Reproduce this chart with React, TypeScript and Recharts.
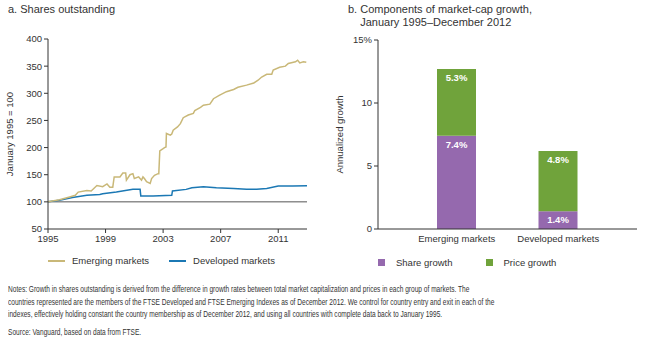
import React from 'react';
import { LineChart, Line, XAxis, YAxis, ReferenceLine, BarChart, Bar, LabelList } from 'recharts';

const emergingYears = [1995.0,1995.8,1996.5,1996.9,1997.1,1997.7,1998.0,1998.4,1998.8,1999.1,1999.3,1999.5,1999.6,2000.0,2000.2,2000.4,2000.45,2000.7,2000.9,2001.0,2001.3,2001.5,2001.6,2001.7,2001.85,2002.1,2002.2,2002.4,2002.65,2002.7,2002.77,2003.0,2003.1,2003.2,2003.23,2003.5,2003.6,2003.7,2004.0,2004.2,2004.4,2004.75,2005.1,2005.2,2005.6,2005.8,2006.25,2006.5,2006.9,2007.4,2007.9,2008.2,2008.8,2009.3,2009.6,2009.85,2010.2,2010.55,2010.65,2011.1,2011.5,2011.7,2012.2,2012.35,2012.5,2012.75,2012.95];
const emergingValues = [100,104,109,112,118,121,120,130,128,133,127,127,146,146,153,153,140,150,152,143,146,140,146,143,137,134,143,149,152,152,194,198,200,201,226,223,225,232,238,244,255,260,263,268,274,278,280,290,296,303,307,311,315,319,324,330,335,335,343,348,350,355,358,361,356,358,357];

const developedYears = [1995.0,1995.8,1996.7,1997.7,1998.6,1998.8,1999.75,2000.9,2001.4,2001.45,2002.3,2003.6,2003.65,2004.6,2005.0,2005.8,2006.7,2007.9,2008.8,2009.5,2010.2,2011.0,2012.0,2013.0];
const developedValues = [100,103,108,112,113.5,115,118,123,123,111,111,112,120,123,126,128,126,124.5,123,123,124.5,129,129,129.5];

const yearTicks = [1995, 1999, 2003, 2007, 2011];
const sharesTicks = [50, 100, 150, 200, 250, 300, 350, 400];

const markets = ['Emerging markets', 'Developed markets'];
const shareGrowth = [7.4, 1.4];
const priceGrowth = [5.3, 4.8];
const growthTicks = [0, 5, 10, 15];

const emergingData = emergingYears.map((x, i) => ({ x, v: emergingValues[i] }));
const developedData = developedYears.map((x, i) => ({ x, v: developedValues[i] }));
const barData = markets.map((m, i) => ({ name: m, share: shareGrowth[i], price: priceGrowth[i] }));

const KHAKI = '#C9B878';
const BLUE = '#1B78B4';
const PURPLE = '#9569AE';
const GREEN = '#70A33B';
const TEXT = '#333333';
const FONT = '"Liberation Sans", Arial, sans-serif';

const tickStyle = { fontSize: 9.5, fill: TEXT, fontFamily: FONT };
const noteStyle: React.CSSProperties = {
  position: 'absolute', left: 8, fontSize: 9, lineHeight: '12.5px', fontFamily: FONT,
  whiteSpace: 'nowrap', transform: 'scaleX(0.73)', transformOrigin: 'left top',
};

export default function App() {
  return (
    <div style={{ position: 'absolute', left: 0, top: 0, width: 661, height: 357, background: '#fff', fontFamily: FONT, color: TEXT, overflow: 'hidden' }}>
      <div style={{ position: 'absolute', left: 8, top: 3, fontSize: 11, fontWeight: 500 }}>a. Shares outstanding</div>
      <div style={{ position: 'absolute', left: 348, top: 3, fontSize: 11, fontWeight: 500, lineHeight: '13px' }}>
        b. Components of market-cap growth,<br />&nbsp;&nbsp;&nbsp;&nbsp;January 1995–December 2012
      </div>

      <div style={{ position: 'absolute', left: 0, top: 0 }}>
        <LineChart width={330} height={245} margin={{ top: 39, right: 23, bottom: 0, left: 0 }}>
          <XAxis
            type="number"
            dataKey="x"
            domain={[1995, 2013]}
            ticks={yearTicks}
            tick={tickStyle}
            tickLine={{ stroke: TEXT }}
            axisLine={{ stroke: TEXT }}
            tickSize={4}
            height={16}
            allowDuplicatedCategory={false}
          />
          <YAxis
            type="number"
            domain={[50, 400]}
            ticks={sharesTicks}
            tick={tickStyle}
            tickLine={{ stroke: TEXT }}
            axisLine={{ stroke: TEXT }}
            tickSize={4}
            width={48}
            label={{ value: 'January 1995 = 100', angle: -90, position: 'insideLeft', offset: 10, style: { fontSize: 9.5, fill: TEXT, textAnchor: 'middle', fontFamily: FONT } }}
          />
          <ReferenceLine y={100} stroke="#555" strokeWidth={1} />
          <Line data={developedData} dataKey="v" type="linear" stroke={BLUE} strokeWidth={1.5} dot={false} isAnimationActive={false} />
          <Line data={emergingData} dataKey="v" type="linear" stroke={KHAKI} strokeWidth={1.5} dot={false} isAnimationActive={false} />
        </LineChart>
      </div>

      <div style={{ position: 'absolute', left: 48, top: 255, fontSize: 9.5, display: 'flex', alignItems: 'center' }}>
        <div style={{ width: 17, height: 0, borderTop: `2px solid ${KHAKI}`, marginRight: 7 }} />
        <span>Emerging markets</span>
        <div style={{ width: 17, height: 0, borderTop: `2px solid ${BLUE}`, marginLeft: 20, marginRight: 7 }} />
        <span>Developed markets</span>
      </div>

      <div style={{ position: 'absolute', left: 330, top: 0 }}>
        <BarChart width={331} height={245} data={barData} margin={{ top: 40, right: 24, bottom: 0, left: 0 }}>
          <XAxis
            dataKey="name"
            tick={tickStyle}
            tickLine={false}
            axisLine={{ stroke: TEXT }}
            padding={{ left: 28, right: 28 }}
            height={16}
            tickSize={4}
          />
          <YAxis
            type="number"
            domain={[0, 15]}
            ticks={growthTicks}
            tickFormatter={(v: number) => (v === 15 ? '15%' : String(v))}
            tick={tickStyle}
            tickLine={{ stroke: TEXT }}
            axisLine={{ stroke: TEXT }}
            tickSize={4}
            width={48}
            label={{ value: 'Annualized growth', angle: -90, position: 'insideLeft', offset: 10, style: { fontSize: 9.5, fill: TEXT, textAnchor: 'middle', fontFamily: FONT } }}
          />
          <Bar dataKey="share" stackId="a" fill={PURPLE} barSize={39} isAnimationActive={false}>
            <LabelList dataKey="share" position="insideTop" offset={5} formatter={(v: number) => `${v.toFixed(1)}%`} style={{ fill: '#fff', fontSize: 9.5, fontWeight: 700, fontFamily: FONT }} />
          </Bar>
          <Bar dataKey="price" stackId="a" fill={GREEN} barSize={39} isAnimationActive={false}>
            <LabelList dataKey="price" position="insideTop" offset={5} formatter={(v: number) => `${v.toFixed(1)}%`} style={{ fill: '#fff', fontSize: 9.5, fontWeight: 700, fontFamily: FONT }} />
          </Bar>
        </BarChart>
      </div>

      <div style={{ position: 'absolute', left: 378, top: 257, fontSize: 9.5, display: 'flex', alignItems: 'center' }}>
        <div style={{ width: 7, height: 7, background: PURPLE, marginRight: 11 }} />
        <span>Share growth</span>
        <div style={{ width: 7, height: 7, background: GREEN, marginLeft: 33, marginRight: 11 }} />
        <span>Price growth</span>
      </div>

      <div style={{ ...noteStyle, top: 283 }}>
        Notes: Growth in shares outstanding is derived from the difference in growth rates between total market capitalization and prices in each group of markets. The<br />
        countries represented are the members of the FTSE Developed and FTSE Emerging Indexes as of December 2012. We control for country entry and exit in each of the<br />
        indexes, effectively holding constant the country membership as of December 2012, and using all countries with complete data back to January 1995.
      </div>
      <div style={{ ...noteStyle, top: 326 }}>
        Source: Vanguard, based on data from FTSE.
      </div>
    </div>
  );
}
